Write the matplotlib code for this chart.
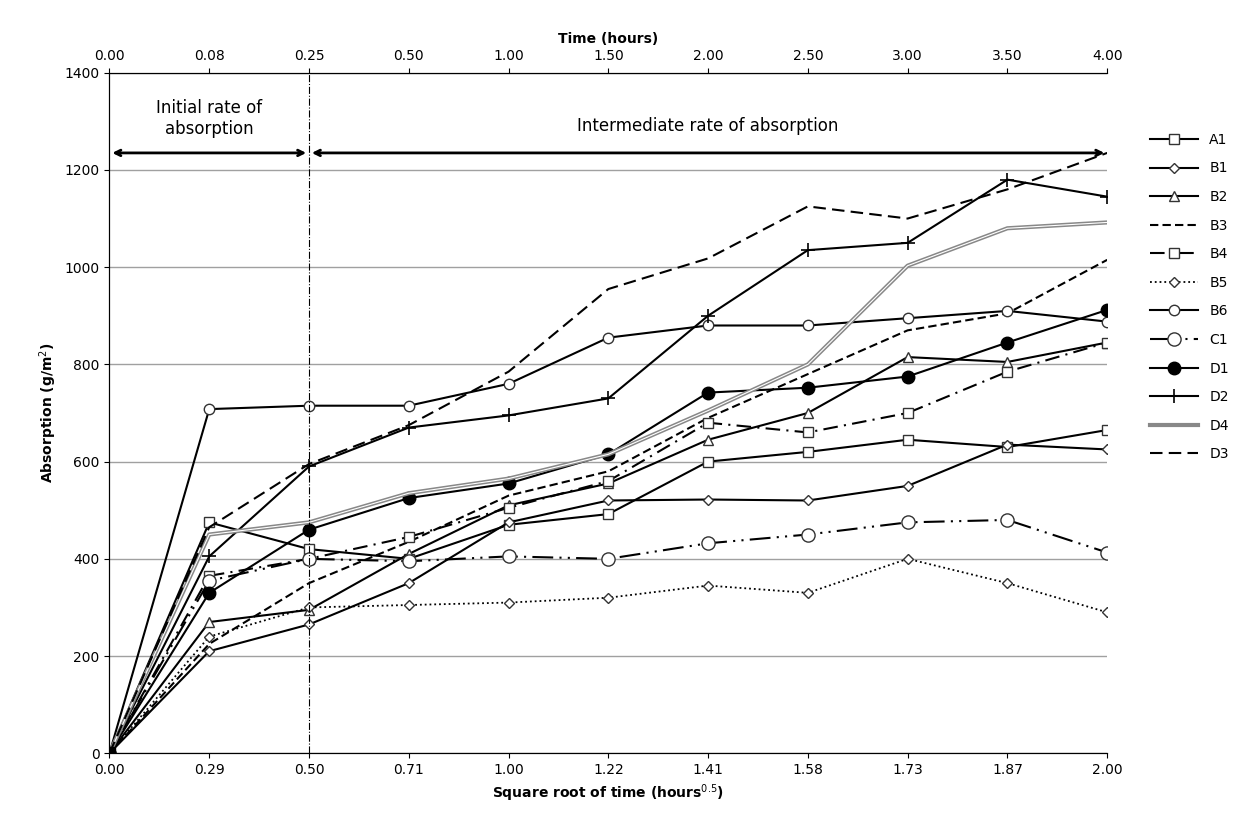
import matplotlib
matplotlib.use("Agg")
import matplotlib.pyplot as plt
import numpy as np

x_labels = ["0.00","0.29","0.50","0.71","1.00","1.22","1.41","1.58","1.73","1.87","2.00"]
top_labels = ["0.00","0.08","0.25","0.50","1.00","1.50","2.00","2.50","3.00","3.50","4.00"]

A1 = [0, 475, 420, 400, 470, 492, 600, 620, 645, 630, 665]
B1 = [0, 210, 265, 350, 475, 520, 522, 520, 550, 635, 625]
B2 = [0, 270, 295, 410, 510, 555, 645, 700, 815, 805, 845]
B3 = [0, 225, 350, 435, 530, 580, 690, 780, 870, 905, 1015]
B4 = [0, 365, 400, 445, 505, 560, 680, 660, 700, 785, 845]
B5 = [0, 240, 300, 305, 310, 320, 345, 330, 400, 350, 290]
B6 = [0, 708, 715, 715, 760, 855, 880, 880, 895, 910, 888]
C1 = [0, 355, 400, 395, 405, 400, 432, 450, 475, 480, 413]
D1 = [0, 330, 460, 525, 555, 615, 742, 752, 775, 845, 912]
D2 = [0, 405, 590, 670, 695, 730, 900, 1035, 1050, 1180, 1145]
D4 = [0, 450, 475, 535, 565, 615, 705, 800, 1003, 1080, 1092]
D3 = [0, 465, 595, 675, 785, 955, 1018, 1125, 1100, 1160, 1235]

x = np.arange(len(x_labels))
fig = plt.figure(figsize=(12.44, 8.17), dpi=100)
ax = fig.add_axes([0.088, 0.078, 0.802, 0.833])

ax.set_ylim(0, 1400)
ax.set_xlim(0, 10)
ax.set_yticks(range(0, 1401, 200))
ax.yaxis.grid(True, color="#a0a0a0", lw=1)
ax.set_axisbelow(True)
ax.spines["right"].set_visible(False)

mk = dict(markersize=7.5, markerfacecolor="white", markeredgecolor="#333333", color="black", lw=1.5)
dk = dict(mk, marker="D", markersize=5.5)
ax.plot(x, A1, marker="s", ls="-", label="A1", **mk)
ax.plot(x, B1, ls="-", label="B1", **dk)
ax.plot(x, B2, marker="^", ls="-", label="B2", **mk)
ax.plot(x, B3, ls=(0, (4, 2)), color="black", lw=1.5, label="B3")
ax.plot(x, B4, marker="s", ls=(0, (7, 3, 1, 3)), label="B4", **mk)
ax.plot(x, B5, ls=":", label="B5", **{**dk, "lw": 1.3})
ax.plot(x, B6, marker="o", ls="-", label="B6", **mk)
ax.plot(x, C1, marker="o", ls=(0, (10, 3, 1, 3, 1, 3)), label="C1", **{**mk, "markersize": 9.5})
ax.plot(x, D1, marker="o", ls="-", color="black", lw=1.5, markersize=9, markerfacecolor="black", label="D1")
ax.plot(x, D2, marker="+", ls="-", color="black", lw=1.5, markersize=10, markeredgewidth=1.2, label="D2")
ax.plot(x, D4, ls="-", color="#888888", lw=3, label="D4")
ax.plot(x, D4, ls="-", color="white", lw=0.8)
ax.plot(x, D3, ls=(0, (6, 3)), color="black", lw=1.5, label="D3")
ax.plot([x[0]], [A1[0]], marker="s", color="black", markersize=9, zorder=5)

ax.axvline(2, color="black", ls="-.", lw=0.8)
ax.annotate("", xy=(0, 1235), xytext=(2, 1235), arrowprops=dict(arrowstyle="<->", lw=2, color="black"))
ax.annotate("", xy=(2, 1235), xytext=(10, 1235), arrowprops=dict(arrowstyle="<->", lw=2, color="black"))
ax.text(1, 1305, "Initial rate of\nabsorption", ha="center", va="center", fontsize=12)
ax.text(6, 1290, "Intermediate rate of absorption", ha="center", va="center", fontsize=12)

ax.set_xticks(x)
ax.set_xticklabels(x_labels, fontsize=10)
ax.tick_params(labelsize=10)
ax.set_xlabel("Square root of time (hours$^{0.5}$)", fontweight="bold", fontsize=10)
ax.set_ylabel("Absorption (g/m$^2$)", fontweight="bold", fontsize=10)

ax2 = ax.twiny()
ax2.set_xlim(0, 10)
ax2.set_xticks(x)
ax2.set_xticklabels(top_labels, fontsize=10)
ax2.set_xlabel("Time (hours)", fontweight="bold", fontsize=10)
ax2.spines["right"].set_visible(False)

handles, labels = ax.get_legend_handles_labels()
ax.legend(handles, labels, loc="upper left", bbox_to_anchor=(1.03, 0.93), frameon=False,
          fontsize=10, handlelength=3.5, labelspacing=1.05)

fig.savefig("out.png", dpi=100)
